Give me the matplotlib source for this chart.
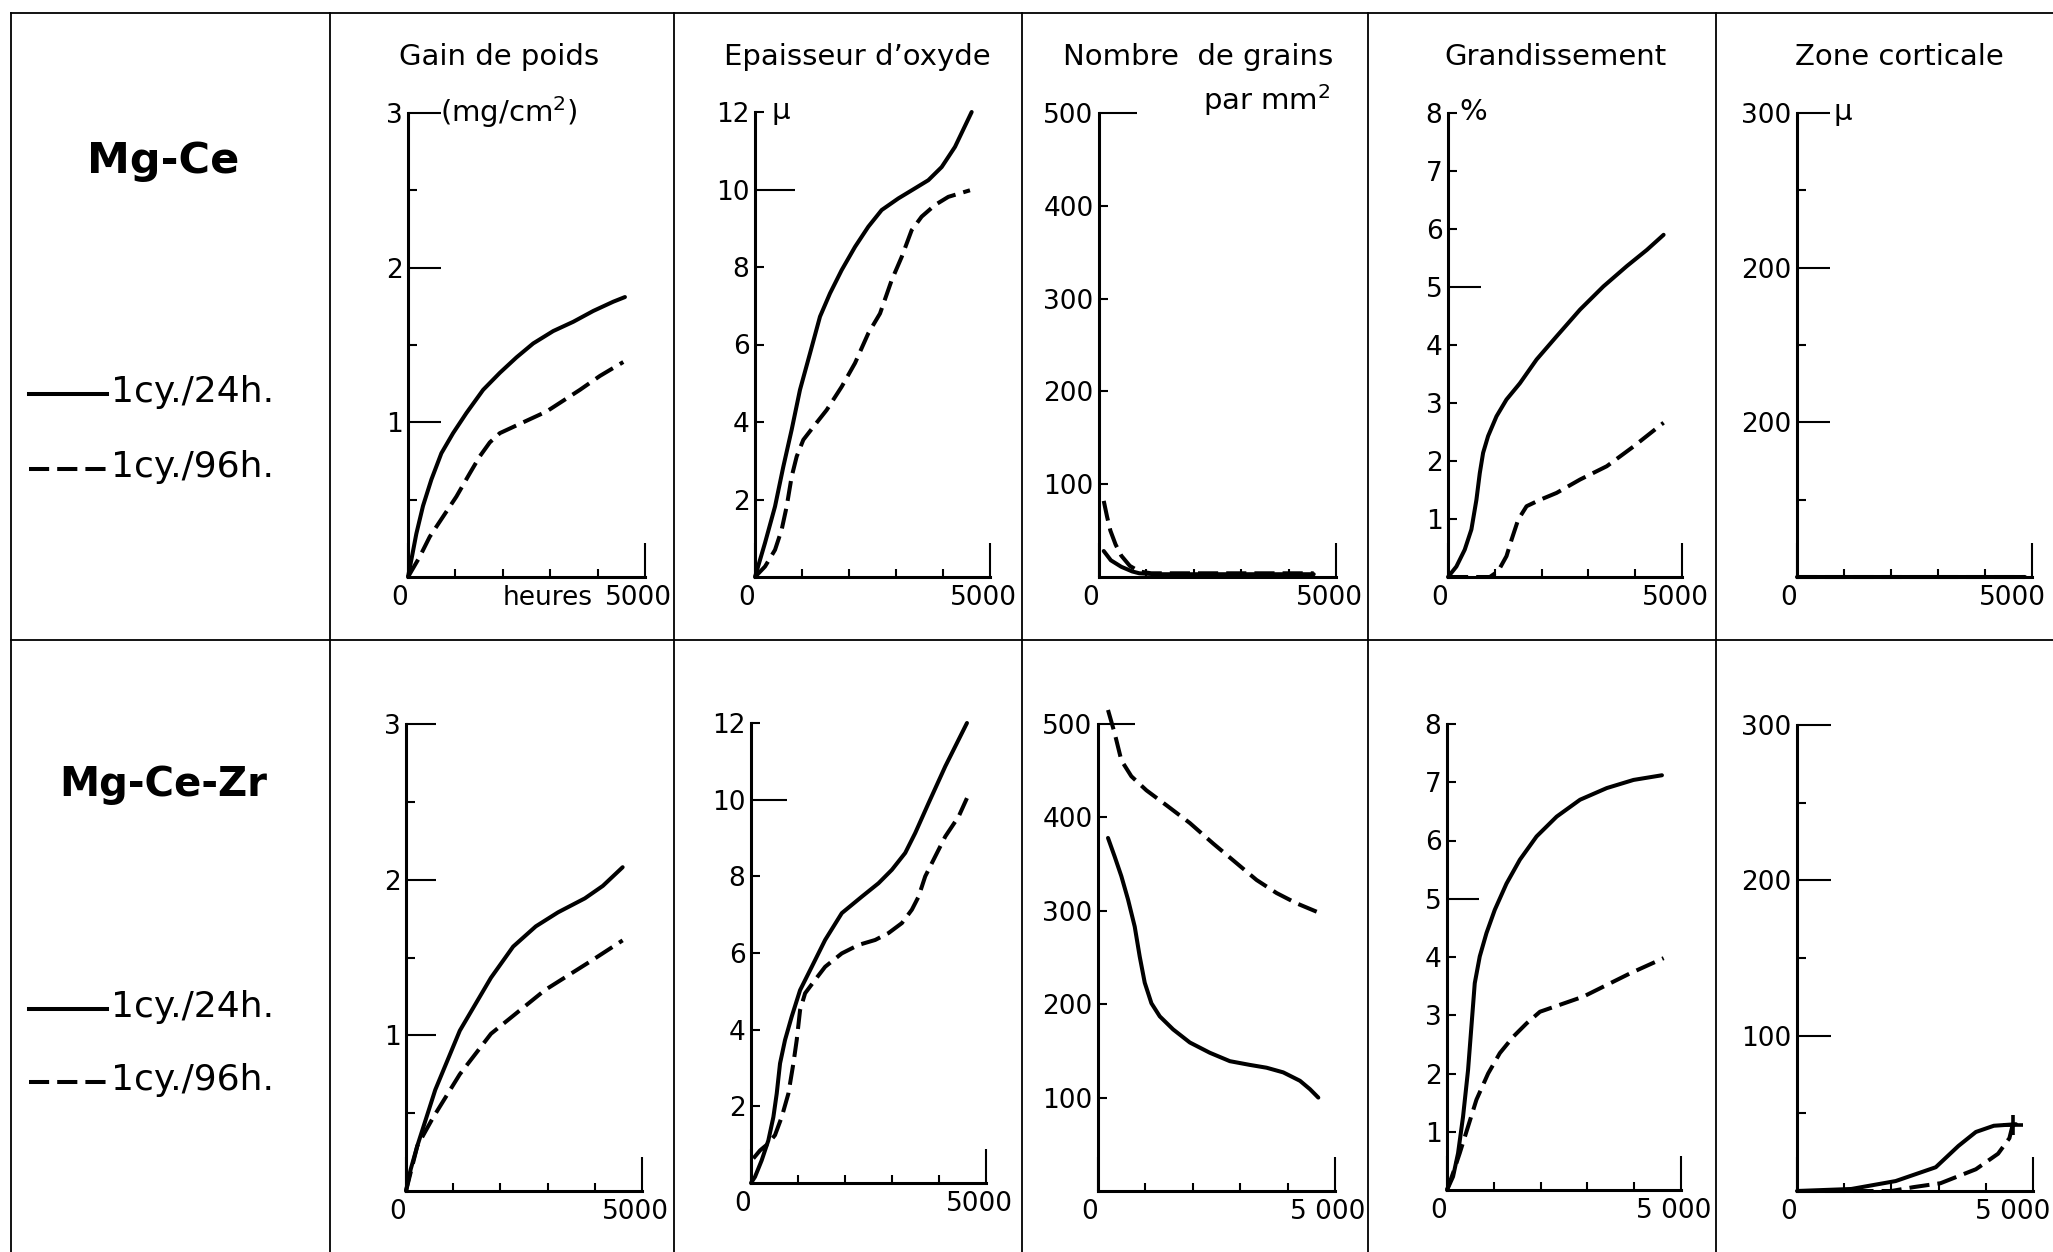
import matplotlib.pyplot as plt
from matplotlib.lines import Line2D
from matplotlib.transforms import ScaledTranslation

W, H, DPI = 2053, 1252, 100

# ---- Mg-Ce : 1 cy./24h. (solid) and 1 cy./96h. (dashed), hours vs value ----
gain_ce_24_t = [0, 70, 176, 317, 493, 704, 951, 1232, 1585, 1937, 2289, 2641, 3063, 3486, 3908, 4331, 4577]
gain_ce_24 = [0, 0.11, 0.28, 0.46, 0.63, 0.80, 0.93, 1.06, 1.21, 1.32, 1.42, 1.51, 1.59, 1.65, 1.72, 1.78, 1.81]
gain_ce_96_t = [0, 246, 458, 739, 1021, 1303, 1514, 1725, 1937, 2218, 2570, 2923, 3275, 3627, 4049, 4542]
gain_ce_96 = [0, 0.13, 0.26, 0.39, 0.52, 0.67, 0.78, 0.87, 0.93, 0.97, 1.02, 1.07, 1.14, 1.21, 1.30, 1.39]

oxide_ce_24_t = [0, 213, 426, 603, 780, 957, 1170, 1383, 1596, 1844, 2128, 2411, 2695, 3050, 3404, 3688,
                 3972, 4255, 4610]
oxide_ce_24 = [0, 0.88, 1.82, 2.85, 3.80, 4.83, 5.77, 6.72, 7.32, 7.92, 8.52, 9.04, 9.47, 9.77, 10.03, 10.24,
               10.58, 11.10, 12.0]
oxide_ce_96_t = [0, 213, 426, 567, 674, 780, 887, 1028, 1277, 1525, 1844, 2128, 2411, 2660, 2908, 3121,
                 3333, 3546, 3830, 4113, 4574]
oxide_ce_96 = [0, 0.27, 0.70, 1.22, 1.82, 2.59, 3.11, 3.54, 3.93, 4.31, 4.91, 5.52, 6.29, 6.80, 7.66, 8.26,
               8.95, 9.30, 9.60, 9.81, 9.98]

grains_ce_24_t = [100, 250, 470, 700, 850, 1200, 2000, 3000, 4000, 4530]
grains_ce_24 = [28, 18, 11, 6, 4, 3, 3, 3, 3, 3]
grains_ce_96_t = [100, 170, 240, 350, 470, 650, 850, 1100, 2000, 3000, 4000, 4530]
grains_ce_96 = [82, 65, 50, 35, 23, 12, 6, 4, 4, 4, 4, 4]

grand_ce_24_t = [0, 179, 357, 500, 607, 679, 750, 857, 1036, 1250, 1536, 1893, 2321, 2821, 3321, 3821,
                 4250, 4607]
grand_ce_24 = [0, 0.18, 0.47, 0.82, 1.33, 1.79, 2.14, 2.43, 2.77, 3.06, 3.34, 3.75, 4.15, 4.61, 5.01, 5.36,
               5.64, 5.90]
grand_ce_96_t = [0, 500, 893, 1071, 1250, 1357, 1500, 1679, 1964, 2321, 2821, 3393, 3964, 4607]
grand_ce_96 = [0, 0, 0, 0.1, 0.36, 0.64, 0.99, 1.22, 1.33, 1.45, 1.68, 1.91, 2.25, 2.66]

zone_ce_24_t = [0, 1000, 2000, 3000, 4000, 4850]
zone_ce_24 = [0, 0, 0, 0, 0, 0]
zone_ce_96_t = [0, 1000, 2000, 3000, 4000, 4850]
zone_ce_96 = [0, 0, 0, 0, 0, 0]

# ---- Mg-Ce-Zr ----
gain_zr_24_t = [0, 100, 240, 620, 1140, 1800, 2270, 2750, 3220, 3790, 4170, 4590]
gain_zr_24 = [0, 0.14, 0.29, 0.65, 1.03, 1.37, 1.57, 1.70, 1.79, 1.88, 1.96, 2.08]
gain_zr_96_t = [0, 240, 570, 1140, 1800, 2940, 3880, 4590]
gain_zr_96 = [0, 0.29, 0.47, 0.75, 1.01, 1.29, 1.47, 1.61]

oxide_zr_24_t = [0, 85, 227, 369, 476, 547, 618, 724, 866, 1044, 1293, 1577, 1932, 2358, 2713, 2997, 3281,
                 3494, 3778, 4134, 4595]
oxide_zr_24 = [0, 0.16, 0.59, 1.11, 1.72, 2.33, 3.12, 3.73, 4.34, 5.03, 5.64, 6.34, 7.04, 7.47, 7.82, 8.17,
               8.61, 9.13, 9.91, 10.87, 12.0]
oxide_zr_96_t = [50, 192, 369, 511, 653, 795, 902, 973, 1044, 1151, 1364, 1577, 1932, 2287, 2642, 2926,
                 3210, 3423, 3565, 3707, 3920, 4134, 4418, 4595]
oxide_zr_96 = [0.64, 0.85, 1.03, 1.25, 1.72, 2.33, 3.12, 3.73, 4.51, 4.95, 5.30, 5.64, 5.99, 6.21, 6.34,
               6.52, 6.78, 7.13, 7.47, 8.0, 8.52, 9.04, 9.56, 10.04]

grains_zr_24_t = [211, 352, 493, 634, 775, 880, 986, 1127, 1303, 1585, 1937, 2359, 2782, 3204, 3556, 3908,
                  4261, 4472, 4648]
grains_zr_24 = [378, 358, 337, 312, 283, 251, 223, 201, 187, 173, 159, 148, 139, 135, 132, 127, 118, 109, 100]
grains_zr_96_t = [211, 352, 493, 704, 1021, 1444, 1937, 2430, 2923, 3345, 3768, 4190, 4613]
grains_zr_96 = [515, 490, 461, 444, 429, 413, 394, 372, 351, 333, 319, 308, 299]

grand_zr_24_t = [0, 129, 236, 343, 450, 521, 593, 700, 843, 1021, 1271, 1557, 1914, 2343, 2843, 3414, 3986,
                 4593]
grand_zr_24 = [0, 0.23, 0.63, 1.26, 2.06, 2.80, 3.55, 4.01, 4.41, 4.81, 5.26, 5.67, 6.07, 6.41, 6.70, 6.90,
               7.04, 7.12]
grand_zr_96_t = [0, 129, 271, 450, 629, 879, 1129, 1414, 1700, 1986, 2486, 2914, 3414, 3914, 4629]
grand_zr_96 = [0, 0.29, 0.63, 1.09, 1.55, 2.0, 2.35, 2.63, 2.86, 3.06, 3.20, 3.32, 3.52, 3.72, 3.98]

zone_zr_24_t = [0, 1150, 2090, 2940, 3420, 3790, 4170, 4640]
zone_zr_24 = [0, 1.3, 6.4, 15.3, 29, 38, 42, 43]
zone_zr_96_t = [0, 2000, 2470, 3040, 3790, 4260, 4500, 4570]
zone_zr_96 = [0, 0, 2.5, 5, 14, 24, 34, 42.6]

alloys = ['Mg-Ce', 'Mg-Ce-Zr']
legend_labels = ['1cy./24h.', '1cy./96h.']
titles = ['Gain de poids', 'Epaisseur d’oxyde', 'Nombre  de grains', 'Grandissement', 'Zone corticale']
units = ['(mg/cm$^2$)', 'μ', None, '%', 'μ']
y_max = [3, 12, 500, 8, 300]

# labelled long ticks, labelled short ticks, unlabelled short ticks
long_ticks = [[1, 2, 3], [10], [500], [5], [100, 200, 300]]
short_ticks = [[], [2, 4, 6, 8, 12], [100, 200, 300, 400], [1, 2, 3, 4, 6, 7, 8], []]
minor_ticks = [[0.5, 1.5, 2.5], [], [], [], [50, 150, 250]]
zone_labels = [['200', '200', '300'], ['100', '200', '300']]
x_labels = [['5000', '5000', '5000', '5000', '5000'],
            ['5000', '5000', '5 000', '5 000', '5 000']]

rows = [
    [(gain_ce_24_t, gain_ce_24, gain_ce_96_t, gain_ce_96),
     (oxide_ce_24_t, oxide_ce_24, oxide_ce_96_t, oxide_ce_96),
     (grains_ce_24_t, grains_ce_24, grains_ce_96_t, grains_ce_96),
     (grand_ce_24_t, grand_ce_24, grand_ce_96_t, grand_ce_96),
     (zone_ce_24_t, zone_ce_24, zone_ce_96_t, zone_ce_96)],
    [(gain_zr_24_t, gain_zr_24, gain_zr_96_t, gain_zr_96),
     (oxide_zr_24_t, oxide_zr_24, oxide_zr_96_t, oxide_zr_96),
     (grains_zr_24_t, grains_zr_24, grains_zr_96_t, grains_zr_96),
     (grand_zr_24_t, grand_zr_24, grand_zr_96_t, grand_zr_96),
     (zone_zr_24_t, zone_zr_24, zone_zr_96_t, zone_zr_96)],
]

plt.rcParams['font.family'] = ['DejaVu Sans']

fig = plt.figure(figsize=(W / DPI, H / DPI), dpi=DPI)
fig.patch.set_facecolor('white')


def fx(px):
    return px / W


def fy(py):
    return 1 - py / H


# panel frames in pixels: x of the origin, x of 5000 h, y of the top, y of the origin
col_x0 = [[408, 755, 1099, 1448, 1797], [406, 751, 1098, 1447, 1797]]
col_x1 = [[645, 990, 1336, 1682, 2032], [642, 986, 1335, 1681, 2033]]
row_top = [[113, 112, 113, 113, 113], [724, 723, 724, 724, 725]]
row_bot = [[577, 577, 577, 577, 577], [1191, 1183, 1191, 1190, 1191]]
long_len = [[33, 40, 38, 33, 33], [30, 36, 37, 32, 34]]
PX = 72 / DPI  # pixels -> points
LW = 2.9
DASH = (0, (5.0, 2.0))

# table frame
frame = dict(color='black', lw=1.3, transform=fig.transFigure)
fig.add_artist(Line2D([fx(11), fx(W)], [fy(13), fy(13)], **frame))
fig.add_artist(Line2D([fx(11), fx(W)], [fy(640), fy(640)], **frame))
for xv in [11, 330, 674, 1022, 1368, 1716]:
    fig.add_artist(Line2D([fx(xv), fx(xv)], [fy(13), fy(H)], **frame))

# column headings
title_x = [499, 857, 1198, 1555, 1899]
for t, xc in zip(titles, title_x):
    fig.text(fx(xc), fy(57), t, ha='center', va='center', fontsize=21)
fig.text(fx(1330), fy(100), 'par mm$^2$', ha='right', va='center', fontsize=21)

# alloy names and line keys
name_y = [161, 785]
key_y = [[394, 469], [1009, 1082]]
for r in range(2):
    fig.text(fx(163), fy(name_y[r]), alloys[r], ha='center', va='center',
             fontsize=31 if r == 0 else 29, fontweight='bold')
    for k in range(2):
        yk = key_y[r][k]
        fig.add_artist(Line2D([fx(29), fx(107)], [fy(yk), fy(yk)], color='black', lw=LW,
                              ls='-' if k == 0 else DASH, transform=fig.transFigure))
        fig.text(fx(111), fy(yk + 8), legend_labels[k], ha='left', va='baseline', fontsize=26)

for r in range(2):
    for c in range(5):
        t24, v24, t96, v96 = rows[r][c]
        x0, x1 = col_x0[r][c], col_x1[r][c]
        top, bot = row_top[r][c], row_bot[r][c]
        ax = fig.add_axes([fx(x0), fy(bot), (x1 - x0) / W, (bot - top) / H])
        ax.plot(t24, v24, color='black', lw=LW, solid_capstyle='round',
                solid_joinstyle='round', clip_on=False)
        ax.plot(t96, v96, color='black', lw=LW, ls=DASH, dash_joinstyle='round', clip_on=False)
        if r == 1 and c == 4:
            ax.plot(t96[-1], v96[-1], marker='+', ms=15, mew=2.6, color='black', clip_on=False)

        ax.set_xlim(0, 5000)
        ax.set_ylim(0, y_max[c])
        for s in ['top', 'right']:
            ax.spines[s].set_visible(False)
        for s in ['left', 'bottom']:
            ax.spines[s].set_linewidth(2.2)
            ax.spines[s].set_capstyle('projecting')

        labels_long = zone_labels[r] if c == 4 else [str(v) for v in long_ticks[c]]
        ax.set_yticks(long_ticks[c], labels=labels_long)
        ax.set_yticks(short_ticks[c] + minor_ticks[c],
                      labels=[str(v) for v in short_ticks[c]] + [''] * len(minor_ticks[c]),
                      minor=True)
        ax.set_xticks([0, 5000], labels=['0', x_labels[r][c]])
        ax.set_xticks([1000, 2000, 3000, 4000], minor=True)

        ax.tick_params(axis='y', which='major', direction='in',
                       length=long_len[r][c] * PX, width=1.5, labelsize=19, pad=4)
        ax.tick_params(axis='y', which='minor', direction='in',
                       length=9 * PX, width=1.5, labelsize=19, pad=4)
        ax.tick_params(axis='x', which='major', direction='in',
                       length=34 * PX, width=1.5, labelsize=19, pad=6)
        ax.tick_params(axis='x', which='minor', direction='in', length=8 * PX, width=1.5)

        # "0" sits left of the origin, "5000" a little left of its tick
        zero_tick, end_tick = ax.xaxis.get_major_ticks()
        zero_tick.label1.set_horizontalalignment('right')
        shift = -20 if c == 4 else -7
        end_tick.label1.set_transform(end_tick.label1.get_transform()
                                      + ScaledTranslation(shift / DPI, 0, fig.dpi_scale_trans))

        if r == 0 and units[c]:
            dx = [23, 12, 0, 8, 26][c]
            ax.annotate(units[c], xy=(0, y_max[c]), xytext=(dx, 1), textcoords='offset points',
                        ha='left', va='center', fontsize=21, annotation_clip=False)
        if r == 0 and c == 0:
            ax.annotate('heures', xy=(5000, 0), xytext=(-38, -6), textcoords='offset points',
                        ha='right', va='top', fontsize=19, annotation_clip=False)

fig.savefig('out.png', dpi=DPI, facecolor='white')
